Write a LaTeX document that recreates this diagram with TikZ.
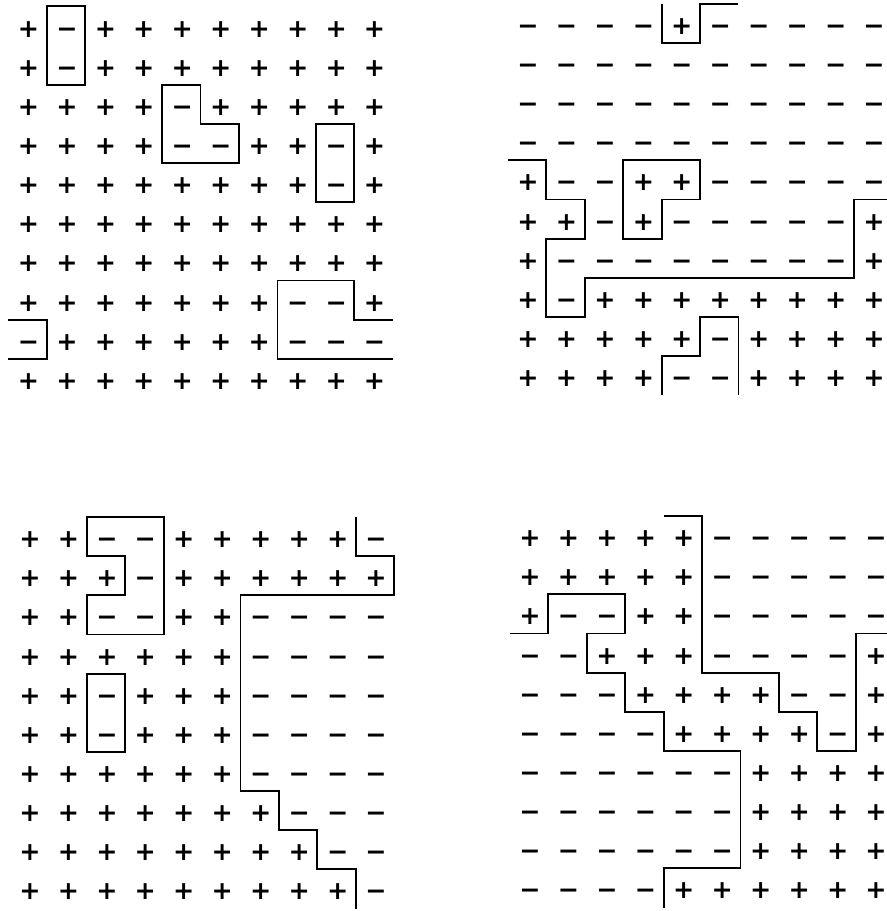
\documentclass[tikz,border=0pt]{standalone}
\usepackage{fontspec}
\newfontfamily\spinfont{DejaVu Sans}
\newcommand\spinP{+}
\newcommand\spinM{−}
\tikzset{
  spin/.style={anchor=base, inner sep=0pt, xshift=0.75pt, yshift=-8.3pt,
    font=\spinfont\bfseries\fontsize{19}{19}\selectfont},
  wall/.style={line width=1.4pt},
  spinlattice/.style={x=28.84pt, y=-29.36pt}
}
\begin{document}
\begin{tikzpicture}[x=0.75pt, y=-0.75pt]
\useasboundingbox (0,0) rectangle (887,911);

% ---------- top left ----------
\begin{scope}[shift={(27.5,26)}, spinlattice]
  \foreach \row [count=\r from 0] in {
    {P,M,P,P,P,P,P,P,P,P},
    {P,M,P,P,P,P,P,P,P,P},
    {P,P,P,P,M,P,P,P,P,P},
    {P,P,P,P,M,M,P,P,M,P},
    {P,P,P,P,P,P,P,P,M,P},
    {P,P,P,P,P,P,P,P,P,P},
    {P,P,P,P,P,P,P,P,P,P},
    {P,P,P,P,P,P,P,M,M,P},
    {M,P,P,P,P,P,P,M,M,M},
    {P,P,P,P,P,P,P,P,P,P}} {
    \foreach \s [count=\c from 0] in \row {
      \node[spin] (tl-\r-\c) at (\c,\r) {\csname spin\s\endcsname};
    }
  }
  \draw[wall] (0.5,-0.5) rectangle (1.5,1.5);
  \draw[wall] (3.5,1.5) -- (4.5,1.5) -- (4.5,2.5) -- (5.5,2.5) -- (5.5,3.5) -- (3.5,3.5) -- cycle;
  \draw[wall] (7.5,2.5) rectangle (8.5,4.5);
  \draw[wall] (9.5,7.5) -- (8.5,7.5) -- (8.5,6.5) -- (6.5,6.5) -- (6.5,8.5) -- (9.5,8.5);
  \draw[wall] (-0.5,7.5) -- (0.5,7.5) -- (0.5,8.5) -- (-0.5,8.5);
\end{scope}

% ---------- top right ----------
\begin{scope}[shift={(527,23.3)}, spinlattice]
  \foreach \row [count=\r from 0] in {
    {M,M,M,M,P,M,M,M,M,M},
    {M,M,M,M,M,M,M,M,M,M},
    {M,M,M,M,M,M,M,M,M,M},
    {M,M,M,M,M,M,M,M,M,M},
    {P,M,M,P,P,M,M,M,M,M},
    {P,P,M,P,M,M,M,M,M,P},
    {P,M,M,M,M,M,M,M,M,P},
    {P,M,P,P,P,P,P,P,P,P},
    {P,P,P,P,P,M,P,P,P,P},
    {P,P,P,P,M,M,P,P,P,P}} {
    \foreach \s [count=\c from 0] in \row {
      \node[spin] (tr-\r-\c) at (\c,\r) {\csname spin\s\endcsname};
    }
  }
  \draw[wall] (3.5,-0.5) -- (3.5,0.5) -- (4.5,0.5) -- (4.5,-0.5) -- (5.5,-0.5);
  \draw[wall] (-0.5,3.5) -- (0.5,3.5) -- (0.5,4.5) -- (1.5,4.5) -- (1.5,5.5) -- (0.5,5.5)
    -- (0.5,7.5) -- (1.5,7.5) -- (1.5,6.5) -- (8.5,6.5) -- (8.5,4.5) -- (9.5,4.5);
  \draw[wall] (2.5,3.5) -- (4.5,3.5) -- (4.5,4.5) -- (3.5,4.5) -- (3.5,5.5) -- (2.5,5.5) -- cycle;
  \draw[wall] (3.5,9.5) -- (3.5,8.5) -- (4.5,8.5) -- (4.5,7.5) -- (5.5,7.5) -- (5.5,9.5);
\end{scope}

% ---------- bottom left ----------
\begin{scope}[shift={(29,536.6)}, spinlattice]
  \foreach \row [count=\r from 0] in {
    {P,P,M,M,P,P,P,P,P,M},
    {P,P,P,M,P,P,P,P,P,P},
    {P,P,M,M,P,P,M,M,M,M},
    {P,P,P,P,P,P,M,M,M,M},
    {P,P,M,P,P,P,M,M,M,M},
    {P,P,M,P,P,P,M,M,M,M},
    {P,P,P,P,P,P,M,M,M,M},
    {P,P,P,P,P,P,P,M,M,M},
    {P,P,P,P,P,P,P,P,M,M},
    {P,P,P,P,P,P,P,P,P,M}} {
    \foreach \s [count=\c from 0] in \row {
      \node[spin] (bl-\r-\c) at (\c,\r) {\csname spin\s\endcsname};
    }
  }
  \draw[wall] (1.5,-0.5) -- (3.5,-0.5) -- (3.5,2.5) -- (1.5,2.5) -- (1.5,1.5) -- (2.5,1.5)
    -- (2.5,0.5) -- (1.5,0.5) -- cycle;
  \draw[wall] (1.5,3.5) rectangle (2.5,5.5);
  \draw[wall] (8.5,-0.5) -- (8.5,0.5) -- (9.5,0.5) -- (9.5,1.5) -- (5.5,1.5) -- (5.5,6.5)
    -- (6.5,6.5) -- (6.5,7.5) -- (7.5,7.5) -- (7.5,8.5) -- (8.5,8.5) -- (8.5,9.5);
\end{scope}

% ---------- bottom right ----------
\begin{scope}[shift={(529,535.6)}, spinlattice]
  \foreach \row [count=\r from 0] in {
    {P,P,P,P,P,M,M,M,M,M},
    {P,P,P,P,P,M,M,M,M,M},
    {P,M,M,P,P,M,M,M,M,M},
    {M,M,P,P,P,M,M,M,M,P},
    {M,M,M,P,P,P,P,M,M,P},
    {M,M,M,M,P,P,P,P,M,P},
    {M,M,M,M,M,M,P,P,P,P},
    {M,M,M,M,M,M,P,P,P,P},
    {M,M,M,M,M,M,P,P,P,P},
    {M,M,M,M,P,P,P,P,P,P}} {
    \foreach \s [count=\c from 0] in \row {
      \node[spin] (br-\r-\c) at (\c,\r) {\csname spin\s\endcsname};
    }
  }
  \draw[wall] (3.5,-0.5) -- (4.5,-0.5) -- (4.5,3.5) -- (6.5,3.5) -- (6.5,4.5) -- (7.5,4.5)
    -- (7.5,5.5) -- (8.5,5.5) -- (8.5,2.5) -- (9.5,2.5);
  \draw[wall] (-0.5,2.5) -- (0.5,2.5) -- (0.5,1.5) -- (2.5,1.5) -- (2.5,2.5) -- (1.5,2.5)
    -- (1.5,3.5) -- (2.5,3.5) -- (2.5,4.5) -- (3.5,4.5) -- (3.5,5.5) -- (5.5,5.5)
    -- (5.5,8.5) -- (3.5,8.5) -- (3.5,9.5);
\end{scope}
\end{tikzpicture}
\end{document}
